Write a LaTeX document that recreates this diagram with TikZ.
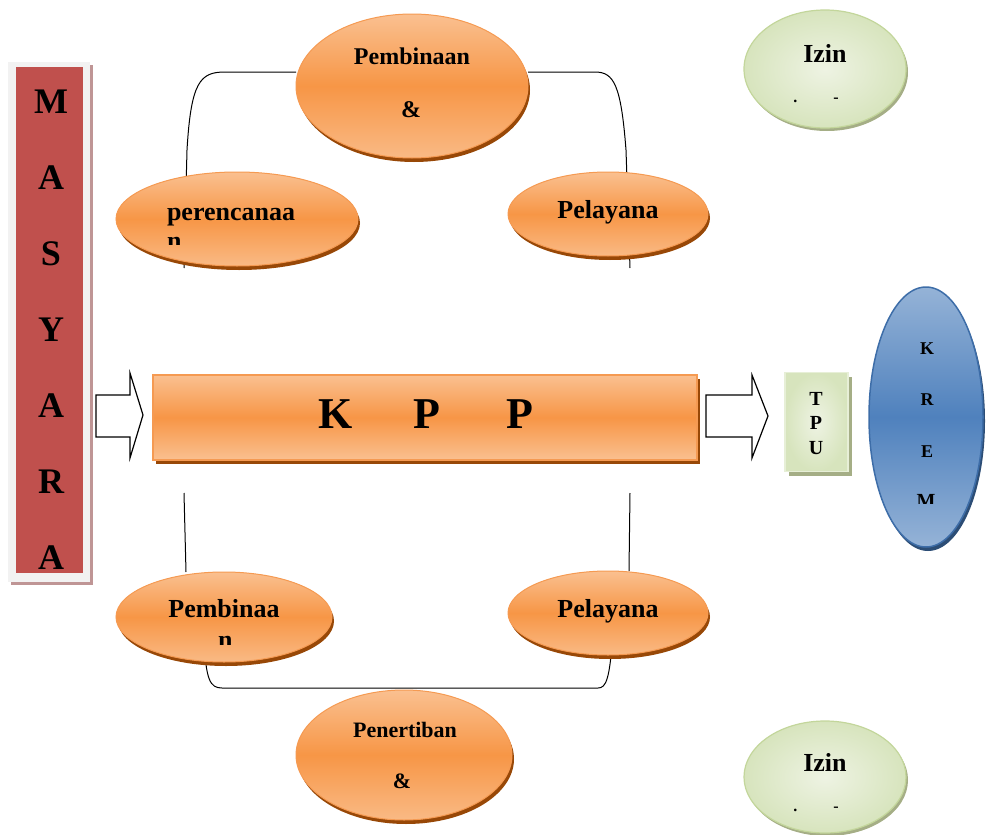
\documentclass[tikz,border=0pt]{standalone}
\usepackage{fontspec}
\setmainfont{Liberation Serif}
\usetikzlibrary{shapes.geometric,shadows,backgrounds}
\definecolor{orA}{HTML}{F79646}
\definecolor{orL}{HTML}{FAC090}
\definecolor{orD}{HTML}{984807}
\definecolor{orB}{HTML}{F59A52}
\definecolor{redM}{HTML}{C0504D}
\definecolor{frameG}{HTML}{F2F2F2}
\definecolor{shadR}{HTML}{BF9595}
\definecolor{grL}{HTML}{EEF3E3}
\definecolor{grM}{HTML}{D7E4BD}
\definecolor{grB}{HTML}{C3D69B}
\definecolor{grS}{HTML}{A5AE86}
\definecolor{blM}{HTML}{4F81BD}
\definecolor{blL}{HTML}{95B3D7}
\definecolor{blB}{HTML}{3D6DA8}
\definecolor{blS}{HTML}{2C4D75}
\newcommand\txtsz[1]{\fontsize{#1}{#1}\selectfont\bfseries}
\tikzset{
  every node/.style={inner sep=0pt, outer sep=0pt},
  oell/.style={ellipse, draw=orB, line width=1pt, top color=orL, bottom color=orL!85!orA, middle color=orA,
    drop shadow={shadow xshift=2pt, shadow yshift=-4pt, fill=orD, opacity=1}},
  gell/.style={ellipse, draw=grB, line width=1.2pt, inner color=grL, outer color=grM,
    drop shadow={shadow xshift=2pt, shadow yshift=-3pt, fill=grS, opacity=1}},
  lbl/.style={anchor=base},
  conn/.style={draw=black, line width=1pt},
  barrow/.style={draw=black, line width=1.2pt, fill=white, line join=miter},
}
\begin{document}
\begin{tikzpicture}[x=1pt,y=-1pt]
\useasboundingbox (0,0) rectangle (986,835);

% MASYARAKAT bar
\node[fill=frameG, minimum width=82pt, minimum height=520pt,
  drop shadow={shadow xshift=3pt, shadow yshift=-3pt, fill=shadR, opacity=1}] (frm) at (49,322) {};
\node[fill=redM, minimum width=67pt, minimum height=506pt] (mbar) at (49.5,320) {};
\foreach \l [count=\i] in {M,A,S,Y,A,R,A}
  \node[lbl, font=\txtsz{36}] (m\i) at (51,{113+76*(\i-1)}) {\l};

% top ellipses
\node[oell, minimum width=232pt, minimum height=144pt] (pembTop) at (412,86) {};
\node[lbl, font=\txtsz{24}] (pembTopT) at (412,64) {Pembinaan};
\node[lbl, font=\txtsz{24}] (pembTopA) at (411,117) {\&};

\node[oell, minimum width=242pt, minimum height=94pt] (peren) at (237,219) {};
\node[lbl, anchor=base west, font=\txtsz{26}] (perenT) at (167,220) {perencanaa};
\begin{scope}
  \clip (150,230) rectangle (300,244);
  \node[lbl, anchor=base west, font=\txtsz{26}] (perenN) at (167,249) {n};
\end{scope}

\node[oell, minimum width=200pt, minimum height=84pt] (pelTop) at (608,214) {};
\node[lbl, font=\txtsz{26}] (pelTopT) at (608,218) {Pelayana};

% KPP
\node[minimum width=544pt, minimum height=85pt, draw=orB, line width=1.2pt,
  top color=orL, bottom color=orL, middle color=orA,
  drop shadow={shadow xshift=3pt, shadow yshift=-4pt, fill=orD, opacity=1}] (kpp) at (425,417.5) {};
\node[lbl, font=\txtsz{44}] (kppT) at (426,428) {K\hspace{61pt}P\hspace{66pt}P};

% block arrows
\draw[barrow] (96,395) -- (130,395) -- (130,373) -- (143,415) -- (130,458) -- (130,437) -- (96,437) -- cycle;
\draw[barrow] (706,395) -- (752,395) -- (752,375) -- (768,416) -- (752,458) -- (752,437) -- (706,437) -- cycle;

% TPU
\node[minimum width=63pt, minimum height=99pt, draw=grM!60!white, line width=1.2pt,
  inner color=grL, outer color=grM,
  drop shadow={shadow xshift=4pt, shadow yshift=-4pt, fill=grS, opacity=1}] (tpu) at (816.5,422) {};
\node[lbl, font=\txtsz{20}] (tpuT) at (816,405) {T};
\node[lbl, font=\txtsz{20}] (tpuP) at (816,429) {P};
\node[lbl, font=\txtsz{20}] (tpuU) at (816,454) {U};

% KREM
\node[ellipse, minimum width=114pt, minimum height=260pt, draw=blB, line width=1.5pt,
  top color=blL, bottom color=blL, middle color=blM,
  drop shadow={shadow xshift=2pt, shadow yshift=-4pt, fill=blS, opacity=1}] (krem) at (926,417) {};
\node[lbl, font=\txtsz{18}] (kremK) at (927,354) {K};
\node[lbl, font=\txtsz{18}] (kremR) at (927,405) {R};
\node[lbl, font=\txtsz{18}] (kremE) at (927,457) {E};
\begin{scope}
  \clip (900,488) rectangle (960,503);
  \node[lbl, font=\txtsz{20}] (kremM) at (926,507) {M};
\end{scope}

% Izin ellipses
\node[gell, minimum width=162pt, minimum height=118pt] (izinTop) at (825,69) {};
\node[lbl, font=\txtsz{26}] (izinTopT) at (825,62) {Izin};
\node[lbl, font=\txtsz{16}] (izinTopD) at (816,102) {.\hspace{36pt}-};

\node[gell, minimum width=162pt, minimum height=112pt] (izinBot) at (825,777) {};
\node[lbl, font=\txtsz{26}] (izinBotT) at (825,771) {Izin};
\node[lbl, font=\txtsz{16}] (izinBotD) at (816,811) {.\hspace{36pt}-};

% bottom ellipses
\node[oell, minimum width=216pt, minimum height=90pt] (pembBot) at (224,617) {};
\node[lbl, font=\txtsz{26}] (pembBotT) at (224,617) {Pembinaa};
\begin{scope}
  \clip (200,630) rectangle (250,644);
  \node[lbl, anchor=base west, font=\txtsz{26}] (pembBotN) at (218,648) {n};
\end{scope}

\node[oell, minimum width=200pt, minimum height=84pt] (pelBot) at (608,613) {};
\node[lbl, font=\txtsz{26}] (pelBotT) at (608,617) {Pelayana};

\node[oell, minimum width=216pt, minimum height=130pt] (pener) at (404,755) {};
\node[lbl, font=\txtsz{22}] (penerT) at (405,737) {Penertiban};
\node[lbl, font=\txtsz{22}] (penerA) at (402,788) {\&};

% connectors (behind)
\coordinate (c1) at (184,268);
\coordinate (c2) at (630,268);
\coordinate (c3) at (184,493);
\coordinate (c4) at (630,493);
\coordinate (c5) at (204,640);
\coordinate (c6) at (613,630);
\begin{scope}[on background layer]
  \draw[conn] (c1) -- (187,150) .. controls (191,82) and (200,72) .. (225,72) -- (pembTop.west |- 0,72);
  \draw[conn] (pembTop.east |- 0,72) -- (595,72) .. controls (614,72) and (621,85) .. (626,150) -- (c2);
  \draw[conn] (c3) -- (pembBot.north -| 186,0);
  \draw[conn] (c4) -- (pelBot.north -| 629,0);
  \draw[conn] (c5) .. controls (206,680) and (210,688) .. (222,688) -- (598,688) .. controls (606,688) and (610,680) .. (c6);
\end{scope}
\end{tikzpicture}
\end{document}
